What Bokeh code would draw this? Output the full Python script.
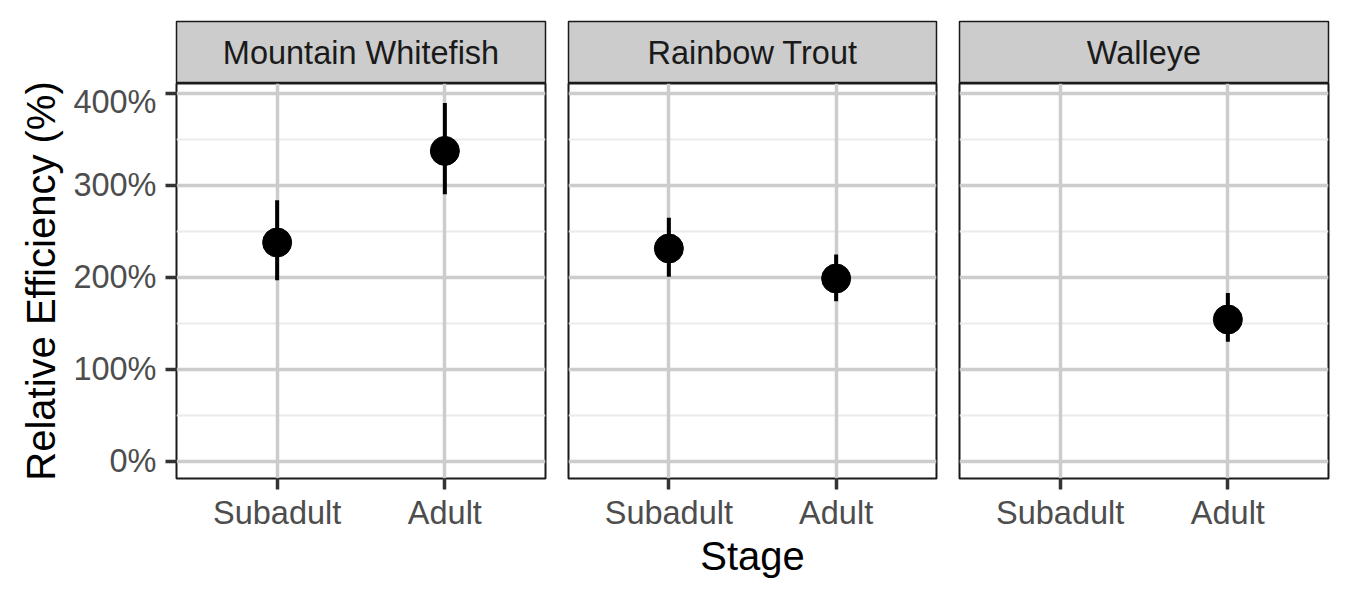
from bokeh.plotting import figure
from bokeh.models import (FactorRange, Range1d, FixedTicker, CategoricalTicker, Grid, Label,
                          PrintfTickFormatter, ColumnDataSource)
from bokeh.layouts import row, column
from bokeh.embed import file_html
from bokeh.resources import INLINE

# ---------------- data ----------------
species = ["Mountain Whitefish", "Rainbow Trout", "Walleye"]
stages = ["Subadult", "Adult"]
row_species = ["Mountain Whitefish", "Mountain Whitefish", "Rainbow Trout", "Rainbow Trout", "Walleye"]
row_stage = ["Subadult", "Adult", "Subadult", "Adult", "Adult"]
estimate = [237.8, 337.3, 231.3, 198.7, 154.2]
lower = [196.9, 290.3, 200.5, 174.1, 129.9]
upper = [283.8, 389.4, 264.6, 224.8, 183.1]
y_ticks = [0, 100, 200, 300, 400]
y_minor = [50, 150, 250, 350]

# ---------------- style / layout ----------------
FONT = "Liberation Sans"
FRAME_W = [369, 368, 369]
LEFT = [176, 12, 12]
RIGHT = [11, 11, 10]
TOP = 21
STRIP_H = 62
PANEL_H = 395
BOTTOM = 100
Y_LO, Y_HI = -18.5, 410.5
MAJOR = "#CCCCCC"
MINOR = "#EBEBEB"
BORDER = "#1A1A1A"

yr = Range1d(Y_LO, Y_HI)
cols = []
for i, sp in enumerate(species):
    # strip
    s = figure(x_range=Range1d(0, 1), y_range=Range1d(0, 1),
               frame_width=FRAME_W[i], frame_height=STRIP_H,
               x_axis_location=None, y_axis_location=None,
               tools="", toolbar_location=None, output_backend="svg",
               background_fill_color="#CCCCCC", border_fill_color="white",
               outline_line_color=BORDER, outline_line_width=1.5,
               min_border=0)
    s.min_border_left = LEFT[i]
    s.min_border_right = RIGHT[i]
    s.min_border_top = TOP
    s.min_border_bottom = 0
    s.center = [c for c in s.center if not isinstance(c, Grid)]
    s.add_layout(Label(x=0.5, y=0.5, text=sp, text_align="center", text_baseline="middle",
                       text_font=FONT, text_font_size="32.5px", text_color="#1A1A1A"))

    # panel
    p = figure(x_range=FactorRange(factors=stages, range_padding=0.1), y_range=yr,
               frame_width=FRAME_W[i], frame_height=PANEL_H,
               y_axis_location="left" if i == 0 else None,
               tools="", toolbar_location=None, output_backend="svg",
               background_fill_color="white", border_fill_color="white",
               outline_line_color=BORDER, outline_line_width=2,
               min_border=0)
    p.min_border_left = LEFT[i]
    p.min_border_right = RIGHT[i]
    p.min_border_top = 0
    p.min_border_bottom = BOTTOM

    p.center = [c for c in p.center if not isinstance(c, Grid)]
    p.add_layout(Grid(dimension=1, ticker=FixedTicker(ticks=y_ticks, minor_ticks=y_minor),
                      grid_line_color=MAJOR, grid_line_width=3.5,
                      minor_grid_line_color=MINOR, minor_grid_line_width=2), "center")
    p.add_layout(Grid(dimension=0, ticker=CategoricalTicker(),
                      grid_line_color=MAJOR, grid_line_width=3.5), "center")

    idx = [k for k, v in enumerate(row_species) if v == sp]
    src = ColumnDataSource(dict(stage=[row_stage[k] for k in idx],
                                est=[estimate[k] for k in idx],
                                lo=[lower[k] for k in idx],
                                hi=[upper[k] for k in idx]))
    p.segment(x0="stage", y0="lo", x1="stage", y1="hi", source=src,
              line_color="black", line_width=4)
    p.scatter(x="stage", y="est", source=src, size=29,
              fill_color="black", line_color="black")

    xa = p.xaxis[0]
    xa.axis_line_color = None
    xa.major_tick_out = 11
    xa.major_tick_in = 0
    xa.major_tick_line_width = 3.5
    xa.major_tick_line_color = "#333333"
    xa.major_label_text_font = FONT
    xa.major_label_text_font_size = "32.5px"
    xa.major_label_text_color = "#4D4D4D"
    xa.major_label_standoff = 5
    if i == 1:
        xa.axis_label = "Stage"
        xa.axis_label_text_font = FONT
        xa.axis_label_text_font_size = "40px"
        xa.axis_label_text_font_style = "normal"
        xa.axis_label_text_color = "black"
        xa.axis_label_standoff = 0

    if i == 0:
        ya = p.yaxis[0]
        ya.ticker = FixedTicker(ticks=y_ticks, minor_ticks=y_minor)
        ya.formatter = PrintfTickFormatter(format="%d%%")
        ya.axis_line_color = None
        ya.minor_tick_line_color = None
        ya.major_tick_out = 11
        ya.major_tick_in = 0
        ya.major_tick_line_width = 3.5
        ya.major_tick_line_color = "#333333"
        ya.major_label_text_font = FONT
        ya.major_label_text_font_size = "32.5px"
        ya.major_label_text_color = "#4D4D4D"
        ya.major_label_standoff = 9
        ya.axis_label = "Relative Efficiency (%)"
        ya.axis_label_text_font = FONT
        ya.axis_label_text_font_size = "40px"
        ya.axis_label_text_font_style = "normal"
        ya.axis_label_text_color = "black"
        ya.axis_label_standoff = 7

    cols.append(column(s, p))

layout = row(*cols)
open("out.html", "w").write(file_html(layout, INLINE))
